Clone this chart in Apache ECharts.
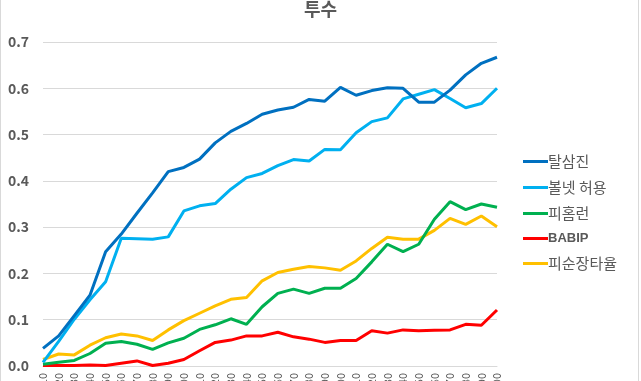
<!DOCTYPE html>
<html>
<head>
<meta charset="utf-8">
<script src="https://cdn.jsdelivr.net/npm/echarts@6/dist/echarts.min.js"></script>
<style>html,body{margin:0;padding:0;background:#fff}#c{width:641px;height:381px}</style>
</head>
<body>
<div id="c"></div>
<script>
const categories = ['10','20','30','40','50','60','70','80','90','100','110','120','130','140','150','160','170','180','190','200','210','220','230','240','250','260','270','280','290','300'];
const strikeouts = [0.038,0.065,0.109,0.153,0.247,0.285,0.330,0.374,0.420,0.429,0.447,0.482,0.507,0.524,0.544,0.553,0.559,0.576,0.572,0.602,0.585,0.595,0.601,0.600,0.570,0.570,0.596,0.629,0.654,0.667];
const walks = [0.008,0.053,0.101,0.143,0.182,0.276,0.275,0.274,0.279,0.335,0.346,0.351,0.382,0.407,0.416,0.433,0.446,0.443,0.468,0.467,0.504,0.528,0.536,0.577,0.587,0.597,0.578,0.558,0.567,0.600];
const homeRuns = [0.004,0.008,0.012,0.027,0.049,0.053,0.047,0.036,0.050,0.060,0.079,0.089,0.102,0.090,0.128,0.157,0.166,0.157,0.168,0.168,0.189,0.225,0.263,0.247,0.263,0.317,0.355,0.338,0.350,0.343];
const babip = [0.001,0.001,0.001,0.002,0.001,0.006,0.011,0.001,0.006,0.014,0.033,0.051,0.056,0.065,0.065,0.073,0.063,0.058,0.051,0.055,0.055,0.076,0.071,0.078,0.076,0.077,0.078,0.090,0.088,0.121];
const iso = [0.014,0.026,0.024,0.045,0.061,0.069,0.065,0.055,0.078,0.098,0.114,0.130,0.144,0.148,0.184,0.202,0.209,0.215,0.212,0.207,0.227,0.254,0.278,0.274,0.274,0.293,0.319,0.306,0.324,0.301];
const yTicks = [0,0.1,0.2,0.3,0.4,0.5,0.6,0.7];

const names = ['탈삼진','볼넷 허용','피홈런','BABIP','피순장타율'];
const colors = ['#0070C0','#00B0F0','#00B050','#FF0000','#FFC000'];
const datas = [strikeouts, walks, homeRuns, babip, iso];
const FF = '"Noto Sans CJK KR", "Noto Sans", sans-serif';

const chart = echarts.init(document.getElementById('c'));
chart.setOption({
  animation: false,
  title: {
    text: '투수', left: 'center', top: -5,
    textStyle: { fontFamily: FF, fontSize: 18, fontWeight: 'bold', color: '#595959' }
  },
  grid: { left: 43, right: 144, top: 42, bottom: 15, containLabel: false, outerBoundsMode: 'none' },
  legend: {
    orient: 'vertical', left: 518, top: 149, itemWidth: 25, itemHeight: 3, itemGap: 11,
    icon: 'rect',
    textStyle: {
      fontFamily: FF, fontSize: 15, color: '#595959', padding: [0,0,0,-5],
      rich: { b: { fontFamily: '"Liberation Sans", sans-serif', fontSize: 13, fontWeight: 'bold', color: '#595959' } }
    },
    formatter: n => n === 'BABIP' ? '{b|' + n + '}' : n,
    data: names
  },
  xAxis: {
    type: 'category', data: categories, boundaryGap: false,
    axisLine: { lineStyle: { color: '#d9d9d9' } },
    axisTick: { show: false },
    axisLabel: { rotate: 90, interval: 0, margin: 7, fontFamily: FF, fontSize: 11, color: '#595959' }
  },
  yAxis: {
    type: 'value', min: 0, max: 0.7, interval: 0.1,
    axisLine: { show: false }, axisTick: { show: false },
    splitLine: { lineStyle: { color: '#d9d9d9' } },
    axisLabel: { margin: 14, fontFamily: FF, fontSize: 14, fontWeight: 'bold', color: '#595959', formatter: v => v.toFixed(1) }
  },
  graphic: [
    { type: 'line', shape: { x1: 0.5, y1: 0, x2: 0.5, y2: 381 }, style: { stroke: '#d9d9d9', lineWidth: 1 } },
    { type: 'line', shape: { x1: 638.5, y1: 0, x2: 638.5, y2: 381 }, style: { stroke: '#d9d9d9', lineWidth: 1 } }
  ],
  series: names.map((n, i) => ({
    name: n, type: 'line', data: datas[i], showSymbol: false, symbol: 'none',
    lineStyle: { width: 3, color: colors[i] }, itemStyle: { color: colors[i] }, z: 10 - i
  }))
});
</script>
</body>
</html>
